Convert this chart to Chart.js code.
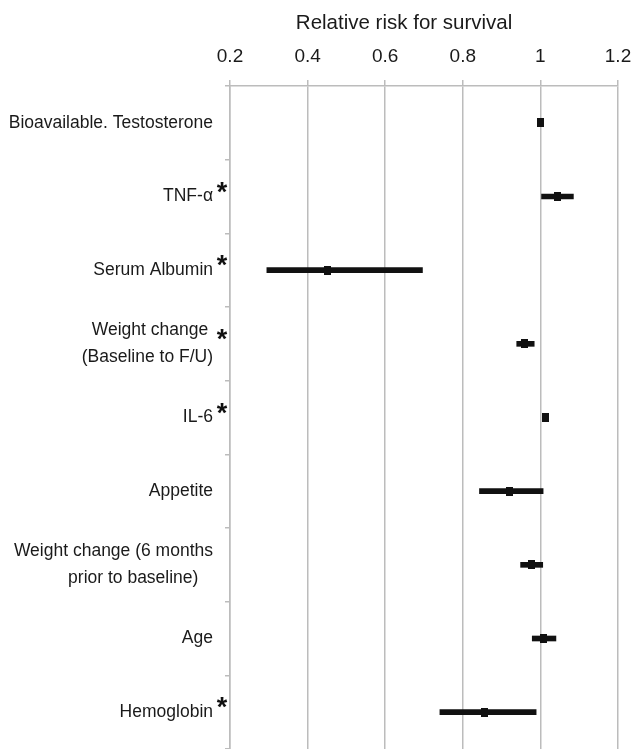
<!DOCTYPE html>
<html>
<head>
<meta charset="utf-8">
<script src="https://cdn.jsdelivr.net/npm/chart.js@4.4.1/dist/chart.umd.min.js"></script>
<style>
  html, body { margin: 0; padding: 0; background: #fff; }
  #wrap { position: relative; width: 633px; height: 749px; }
</style>
</head>
<body>
<div id="wrap"><canvas id="forest"></canvas></div>
<script>
// Relative risk for survival (forest plot)
const labels = [
  'Bioavailable. Testosterone',
  'TNF-α',
  'Serum Albumin',
  ['Weight change ', '(Baseline to F/U)'],
  'IL-6',
  'Appetite',
  ['Weight change (6 months', 'prior to baseline)   '],
  'Age',
  'Hemoglobin'
];
const significant = [false, true, true, true, true, false, false, false, true];
const relRisk = [1.000, 1.044, 0.452, 0.960, 1.014, 0.920, 0.976, 1.009, 0.855];
const ciLow   = [0.998, 1.003, 0.295, 0.939, 1.008, 0.843, 0.949, 0.979, 0.741];
const ciHigh  = [1.002, 1.085, 0.696, 0.984, 1.020, 1.007, 1.006, 1.040, 0.989];
const xTicks  = [0.2, 0.4, 0.6, 0.8, 1, 1.2];

const FONT = '"Liberation Sans", Arial, sans-serif';
const TEXT = '#1a1a1a';
const GRID = '#bcbcbc';

// little upright black box used as the point marker
const marker = document.createElement('canvas');
marker.width = 7; marker.height = 9;
const mctx = marker.getContext('2d');
mctx.fillStyle = '#111';
mctx.fillRect(0, 0, 7, 9);

const asterisks = {
    id: 'asterisks', afterDraw(c) {
        const { ctx, scales: { y } } = c;
        ctx.save();
        ctx.font = 'bold 27px ' + FONT;
        ctx.fillStyle = '#111';
        ctx.textAlign = 'center';
        ctx.textBaseline = 'alphabetic';
        significant.forEach((s, i) => {
            if (!s) return;
            const yc = y.getPixelForTick(i) - 13;
            ctx.fillText('*', y.right - 8, yc + 17);
        });
        ctx.restore();
    }
};

// keep the plot box fixed: no extra room for overhanging tick labels
const noPad = s => { s.paddingLeft = 0; s.paddingRight = 0; s.paddingTop = 0; s.paddingBottom = 0; };

new Chart(document.getElementById('forest').getContext('2d'), {
    type: 'bar',
    data: {
        labels,
        datasets: [
            {
                type: 'bar', label: '95% CI', indexAxis: 'y', order: 2,
                data: ciLow.map((lo, i) => [lo, ciHigh[i]]),
                backgroundColor: '#111', borderWidth: 0, barThickness: 5, borderSkipped: false
            },
            {
                type: 'line', label: 'Relative risk', indexAxis: 'y', order: 1,
                data: relRisk, showLine: false,
                pointStyle: marker, pointRadius: 5, pointHoverRadius: 5
            }
        ]
    },
    options: {
        indexAxis: 'y',
        responsive: true, maintainAspectRatio: false, animation: false,
        layout: { autoPadding: false, padding: { left: 0, right: 15, top: 0, bottom: 0 } },
        plugins: { legend: { display: false }, tooltip: { enabled: false } },
        scales: {
            x: {
                type: 'linear', position: 'top', min: 0.2, max: 1.2,
                afterBuildTicks: s => { s.ticks = xTicks.map(v => ({ value: v })); },
                afterFit: s => { s.height = 86; noPad(s); },
                ticks: { color: TEXT, font: { family: FONT, size: 19 }, padding: 12, callback: v => String(v) },
                grid: { color: GRID, lineWidth: 1.5, tickLength: 6 },
                border: { color: GRID, width: 1.5 },
                title: {
                    display: true, text: 'Relative risk for survival       ', color: TEXT,
                    font: { family: FONT, size: 20.5 }, padding: { top: 11, bottom: 0 }
                }
            },
            y: {
                type: 'category', position: 'left', offset: true,
                afterFit: s => { s.width = 230; noPad(s); },
                ticks: { color: TEXT, font: { family: FONT, size: 17.5, lineHeight: 1.55 }, padding: 12, autoSkip: false },
                grid: { drawOnChartArea: false, color: GRID, lineWidth: 1.5, tickLength: 5, offset: true },
                border: { color: GRID, width: 1.5 }
            }
        }
    },
    plugins: [asterisks]
});
</script>
</body>
</html>
